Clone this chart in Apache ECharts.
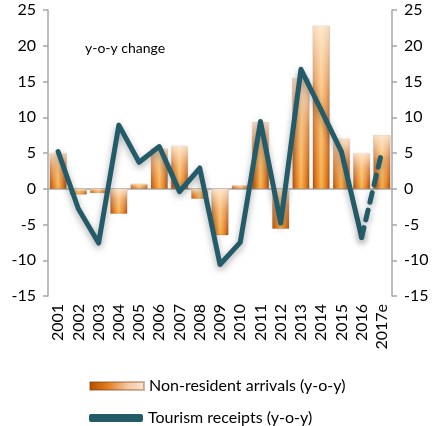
<!DOCTYPE html>
<html>
<head>
<meta charset="utf-8">
<script src="https://cdn.jsdelivr.net/npm/echarts@6/dist/echarts.min.js"></script>
<style>
  html, body { margin: 0; padding: 0; background: #fff; }
  #chart { width: 436px; height: 426px; }
</style>
</head>
<body>
<div id="chart"></div>
<script>
// years on the x axis
var years = ['2001', '2002', '2003', '2004', '2005', '2006', '2007', '2008', '2009',
             '2010', '2011', '2012', '2013', '2014', '2015', '2016', '2017e'];
// non-resident arrivals, y-o-y %
var arrivals = [5, -0.8, -0.6, -3.5, 0.7, 5.6, 6, -1.4, -6.5, 0.5, 9.3, -5.6, 15.5, 22.8, 7, 5, 7.5];
// tourism receipts, y-o-y % (last point is an estimate, drawn dashed)
var receipts = [5.2, -2.8, -7.6, 8.9, 3.7, 5.9, -0.4, 2.9, -10.6, -7.5, 9.4, -4.8, 16.7, 11, 5.2, -6.8, 5.2];
var yTicks = { min: -15, max: 25, interval: 5 };

var solidPart = receipts.map(function (v, i) { return i < receipts.length - 1 ? v : null; });
var dashPart = receipts.map(function (v, i) { return i >= receipts.length - 2 ? v : null; });

var font = 'Lato, "Open Sans", sans-serif';
var lineColor = '#245b69';
var barGrad = new echarts.graphic.LinearGradient(0, 0, 1, 0, [
  { offset: 0, color: '#b04e06' },
  { offset: 0.22, color: '#e2781a' },
  { offset: 0.5, color: '#f7b450' },
  { offset: 0.78, color: '#e47c1c' },
  { offset: 1, color: '#a94a08' }
]);
// light bevel on the top of each bar
var sheen = new echarts.graphic.LinearGradient(0, 0, 0, 1, [
  { offset: 0, color: 'rgba(255,242,228,0.85)' },
  { offset: 0.45, color: 'rgba(255,240,225,0.35)' },
  { offset: 1, color: 'rgba(255,255,255,0)' }
]);
var legendGrad = new echarts.graphic.LinearGradient(0, 0, 1, 0, [
  { offset: 0, color: '#b04e06' },
  { offset: 0.3, color: '#e2781a' },
  { offset: 0.7, color: '#f3c9a4' },
  { offset: 1, color: '#fbe8d8' }
]);

var myChart = echarts.init(document.getElementById('chart'));

var yAxisBase = {
  type: 'value',
  min: yTicks.min,
  max: yTicks.max,
  interval: yTicks.interval,
  splitLine: { show: false },
  axisLine: { show: true, lineStyle: { color: '#a6a6a6', width: 1.5 } },
  axisTick: { show: true, length: 5, lineStyle: { color: '#a6a6a6', width: 1.5 } },
  axisLabel: { color: '#000', fontSize: 16, fontFamily: font, margin: 12 }
};

var legendBase = {
  itemWidth: 54, itemHeight: 8,
  selectedMode: false,
  textStyle: { fontSize: 16, color: '#000', fontFamily: font }
};

var option = {
  animation: false,
  grid: { left: 48, right: 44, top: 10, bottom: 130 },
  title: {
    text: 'y-o-y change',
    left: 80, top: 36,
    textStyle: { fontSize: 14, fontWeight: 'normal', color: '#000', fontFamily: font }
  },
  legend: [
    Object.assign({}, legendBase, {
      left: 84, top: 373,
      data: [{ name: 'Non-resident arrivals (y-o-y)', icon: 'rect', itemStyle: { color: legendGrad } }]
    }),
    Object.assign({}, legendBase, {
      left: 84, top: 405,
      data: [{ name: 'Tourism receipts (y-o-y)', icon: 'roundRect' }]
    })
  ],
  xAxis: [
    {
      // zero line
      type: 'category',
      data: years,
      axisLine: { onZero: true, lineStyle: { color: '#a6a6a6', width: 1.5 } },
      axisTick: { show: false },
      axisLabel: { show: false }
    },
    {
      // labels at the bottom
      type: 'category',
      data: years,
      position: 'bottom',
      axisLine: { show: false, onZero: false },
      axisTick: { show: false },
      axisLabel: { rotate: 90, color: '#000', fontSize: 16, fontFamily: font, margin: 8, interval: 0 }
    }
  ],
  yAxis: [
    Object.assign({}, yAxisBase, { position: 'left' }),
    Object.assign({}, yAxisBase, { position: 'right' })
  ],
  series: [
    {
      name: 'Non-resident arrivals (y-o-y)',
      type: 'bar',
      data: arrivals,
      barCategoryGap: '16%',
      itemStyle: { color: barGrad, borderColor: 'rgba(120,50,0,0.35)', borderWidth: 0.5 }
    },
    {
      name: 'arrivals-sheen',
      type: 'bar',
      data: arrivals,
      barGap: '-100%',
      silent: true,
      itemStyle: { color: sheen }
    },
    {
      name: 'Tourism receipts (y-o-y)',
      type: 'line',
      data: solidPart,
      symbol: 'none',
      connectNulls: false,
      itemStyle: { color: lineColor },
      lineStyle: {
        color: lineColor, width: 5, cap: 'round', join: 'round',
        shadowColor: 'rgba(0,0,0,0.35)', shadowBlur: 7, shadowOffsetY: 3
      },
      z: 3
    },
    {
      name: 'receipts-estimate',
      type: 'line',
      data: dashPart,
      symbol: 'none',
      itemStyle: { color: lineColor },
      lineStyle: {
        color: lineColor, width: 5, type: [10, 8], cap: 'round',
        shadowColor: 'rgba(0,0,0,0.35)', shadowBlur: 7, shadowOffsetY: 3
      },
      z: 3
    }
  ]
};

myChart.setOption(option);
</script>
</body>
</html>
